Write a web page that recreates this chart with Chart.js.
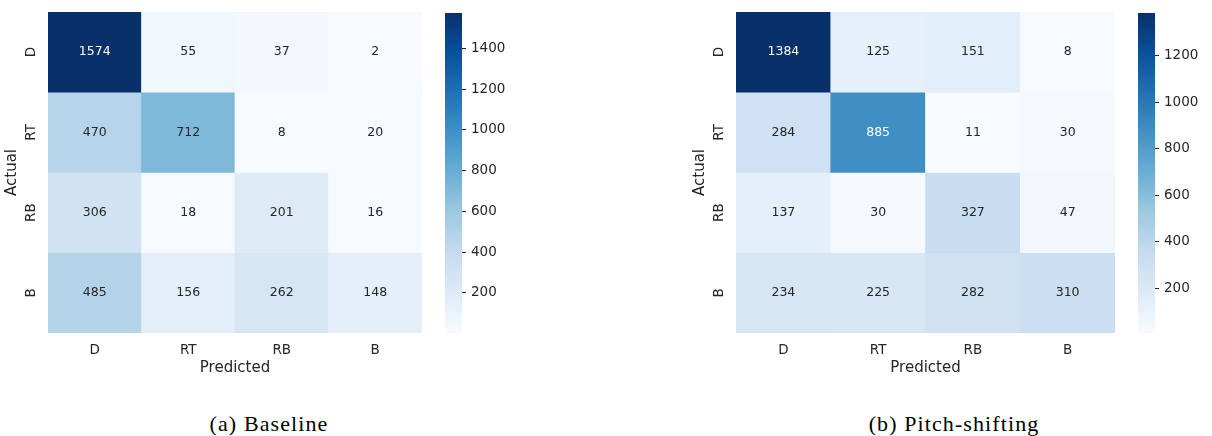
<!DOCTYPE html>
<html>
<head>
<meta charset="utf-8">
<script src="https://cdn.jsdelivr.net/npm/chart.js@4"></script>
<style>
  body { margin: 0; background: #fff; }
  #wrap { position: relative; width: 1212px; height: 436px; }
  .box { position: absolute; top: 0; height: 385px; }
  .cap { position: absolute; top: 411px; width: 400px; text-align: center;
         font-family: 'Liberation Serif', serif; font-size: 22px; letter-spacing: 1.1px;
         line-height: 26px; color: #000; }
</style>
</head>
<body>
<div id="wrap">
  <div class="box" style="left:0;width:430px"><canvas id="hmA"></canvas></div>
  <div class="box" style="left:445px;width:80px"><canvas id="cbA"></canvas></div>
  <div class="box" style="left:688px;width:435px"><canvas id="hmB"></canvas></div>
  <div class="box" style="left:1138px;width:74px"><canvas id="cbB"></canvas></div>
  <div class="cap" style="left:69px">(a) Baseline</div>
  <div class="cap" style="left:754px">(b) Pitch-shifting</div>
</div>
<script>
// 数据
const predictedLabels = ['D', 'RT', 'RB', 'B'];
const actualLabels = ['D', 'RT', 'RB', 'B'];
const baselineMatrix = [
    [1574, 55, 37, 2],
    [470, 712, 8, 20],
    [306, 18, 201, 16],
    [485, 156, 262, 148]
];
const pitchMatrix = [
    [1384, 125, 151, 8],
    [284, 885, 11, 30],
    [137, 30, 327, 47],
    [234, 225, 282, 310]
];
const baselineTicks = [200, 400, 600, 800, 1000, 1200, 1400];
const pitchTicks = [200, 400, 600, 800, 1000, 1200];

// Blues 色表
const blues = ['#f7fbff', '#deebf7', '#c6dbef', '#9ecae1', '#6baed6', '#4292c6', '#2171b5', '#08519c', '#08306b'];
const TEXT = '#262626';
Chart.defaults.font.family = "'DejaVu Sans', sans-serif";
Chart.defaults.color = TEXT;

function hexRgb(h) {
    return [parseInt(h.slice(1, 3), 16), parseInt(h.slice(3, 5), 16), parseInt(h.slice(5, 7), 16)];
}

function bluesRgb(t) {
    t = Math.max(0, Math.min(1, t));
    const p = t * (blues.length - 1);
    const i = Math.min(Math.floor(p), blues.length - 2);
    const f = p - i;
    const a = hexRgb(blues[i]), b = hexRgb(blues[i + 1]);
    return a.map((v, k) => Math.round(v + (b[k] - v) * f));
}

function luminance(rgb) {
    const c = rgb.map(v => {
        v = v / 255;
        return v <= 0.03928 ? v / 12.92 : Math.pow((v + 0.055) / 1.055, 2.4);
    });
    return 0.2126 * c[0] + 0.7152 * c[1] + 0.0722 * c[2];
}

// 单元格数字
const cellText = {
    id: 'cellText',
    afterDatasetsDraw(chart, args, opts) {
        const ctx = chart.ctx;
        ctx.save();
        ctx.font = "12.5px 'DejaVu Sans'";
        ctx.textAlign = 'center';
        ctx.textBaseline = 'middle';
        chart.data.datasets.forEach((ds, i) => {
            chart.getDatasetMeta(i).data.forEach((bar, j) => {
                const v = opts.matrix[i][j];
                const rgb = bluesRgb((v - opts.vmin) / (opts.vmax - opts.vmin));
                ctx.fillStyle = luminance(rgb) > 0.408 ? TEXT : '#ffffff';
                const c = bar.getCenterPoint();
                ctx.fillText(String(v), c.x, c.y);
            });
        });
        ctx.restore();
    }
};

// 行标签(竖排)
const rowLabels = {
    id: 'rowLabels',
    afterDraw(chart, args, opts) {
        const ctx = chart.ctx;
        const ys = chart.scales.y;
        ctx.save();
        ctx.font = "13.5px 'DejaVu Sans'";
        ctx.fillStyle = TEXT;
        ctx.textAlign = 'center';
        ctx.textBaseline = 'middle';
        opts.labels.forEach((lab, i) => {
            ctx.save();
            ctx.translate(chart.chartArea.left - 17, ys.getPixelForValue(i + 0.5));
            ctx.rotate(-Math.PI / 2);
            ctx.fillText(lab, 0, 0);
            ctx.restore();
        });
        ctx.restore();
    }
};

function makeHeatmap(id, matrix) {
    const flat = matrix.flat();
    const vmin = Math.min(...flat), vmax = Math.max(...flat);
    const datasets = matrix.map((row, i) => ({
        label: actualLabels[i],
        data: row.map(() => 1),
        backgroundColor: row.map(v => 'rgb(' + bluesRgb((v - vmin) / (vmax - vmin)).join(',') + ')'),
        borderWidth: 0,
        barPercentage: 1,
        categoryPercentage: 1
    }));
    new Chart(document.getElementById(id), {
        type: 'bar',
        data: { labels: predictedLabels, datasets: datasets },
        plugins: [cellText, rowLabels],
        options: {
            responsive: true,
            maintainAspectRatio: false,
            animation: false,
            layout: { padding: { top: 12, right: 8, bottom: 0, left: 0 } },
            plugins: {
                legend: { display: false },
                tooltip: { enabled: false },
                cellText: { matrix: matrix, vmin: vmin, vmax: vmax },
                rowLabels: { labels: actualLabels }
            },
            scales: {
                x: {
                    stacked: true,
                    grid: { display: false, drawTicks: false },
                    border: { display: false },
                    ticks: { font: { size: 13.5 }, padding: 9, color: TEXT },
                    title: { display: true, text: 'Predicted', font: { size: 15 }, padding: { top: 0, bottom: 8 }, color: TEXT },
                    afterFit(scale) { scale.height = 52; }
                },
                y: {
                    stacked: true,
                    reverse: true,
                    min: 0,
                    max: 4,
                    grid: { display: false, drawTicks: false },
                    border: { display: false },
                    ticks: { display: false },
                    title: { display: true, text: 'Actual', font: { size: 15 }, padding: { top: 3, bottom: 0 }, color: TEXT },
                    afterFit(scale) { scale.width = 48; }
                }
            }
        }
    });
    return { vmin: vmin, vmax: vmax };
}

function makeColorbar(id, range, ticks, barWidth) {
    const vmin = range.vmin, vmax = range.vmax;
    new Chart(document.getElementById(id), {
        type: 'bar',
        data: {
            labels: [''],
            datasets: [{
                data: [[vmin, vmax]],
                borderWidth: 0,
                barPercentage: 1,
                categoryPercentage: 1,
                backgroundColor(c) {
                    const chart = c.chart;
                    if (!chart.chartArea) return blues[4];
                    const ys = chart.scales.y;
                    const g = chart.ctx.createLinearGradient(0, ys.getPixelForValue(vmin), 0, ys.getPixelForValue(vmax));
                    blues.forEach((col, i) => g.addColorStop(i / (blues.length - 1), col));
                    return g;
                }
            }]
        },
        options: {
            responsive: true,
            maintainAspectRatio: false,
            animation: false,
            layout: { padding: { top: 12, bottom: 52, left: 0, right: 0 } },
            plugins: { legend: { display: false }, tooltip: { enabled: false } },
            scales: {
                x: { display: false },
                y: {
                    position: 'right',
                    min: vmin,
                    max: vmax,
                    grid: { drawOnChartArea: false, drawTicks: true, tickLength: 4, tickColor: TEXT, tickWidth: 1 },
                    border: { display: false },
                    ticks: { font: { size: 13.5 }, padding: 5, color: TEXT, callback: v => String(v) },
                    afterBuildTicks(scale) { scale.ticks = ticks.map(v => ({ value: v })); },
                    afterFit(scale) { scale.width = scale.chart.width - barWidth; }
                }
            }
        }
    });
}

document.addEventListener('DOMContentLoaded', function() {
    const rA = makeHeatmap('hmA', baselineMatrix);
    makeColorbar('cbA', rA, baselineTicks, 17);
    const rB = makeHeatmap('hmB', pitchMatrix);
    makeColorbar('cbB', rB, pitchTicks, 17);
});
</script>
</body>
</html>
